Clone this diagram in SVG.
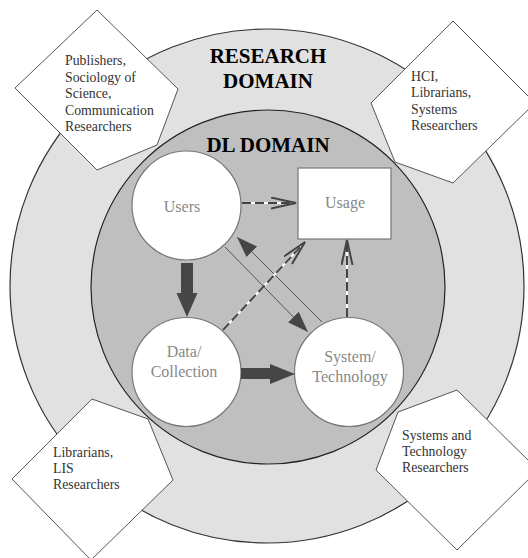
<svg xmlns="http://www.w3.org/2000/svg" width="528" height="558" viewBox="0 0 528 558">
  <style>
    .label { font-family: "Liberation Serif", "Times New Roman", serif; font-size: 16px; fill: #888; text-anchor: middle; }
    .title { font-family: "Liberation Serif", "Times New Roman", serif; font-size: 21px; font-weight: bold; fill: #000; text-anchor: middle; }
    .who { font-family: "Liberation Serif", "Times New Roman", serif; font-size: 13.8px; fill: #333; }
    .diamond { fill: #fff; stroke: #555; stroke-width: 1; }
    .node { fill: #fff; stroke: #777; stroke-width: 1.2; }
    .dash-base { stroke: #fff; stroke-width: 2; fill: none; }
    .dash { stroke: #444; stroke-width: 2; stroke-dasharray: 9 4; fill: none; }
    .thin { stroke: #555; stroke-width: 1; fill: none; }
    .bold-arrow { fill: #464646; }
  </style>
  <defs>
    <marker id="openHead" markerUnits="userSpaceOnUse" markerWidth="28" markerHeight="14" refX="25" refY="6" orient="auto">
      <path d="M0,0.5 L25,6 L0,11.5" fill="none" stroke="#444" stroke-width="2" stroke-dasharray="none"/>
    </marker>
    <marker id="solidHead" markerUnits="userSpaceOnUse" markerWidth="22" markerHeight="16" refX="21" refY="7.5" orient="auto">
      <path d="M0,0 L21,7.5 L0,15 z" fill="#464646" stroke="none"/>
    </marker>
  </defs>

  <!-- domains -->
  <g id="research-domain">
    <circle cx="267" cy="286" r="257" fill="#e1e1e1" stroke="#333" stroke-width="1.2"/>
    <text class="title" x="268" y="63">RESEARCH</text>
    <text class="title" x="268" y="88">DOMAIN</text>
  </g>
  <g id="dl-domain">
    <circle cx="268" cy="287" r="177" fill="#bfbfbf" stroke="#222" stroke-width="1.2"/>
    <text class="title" x="268" y="152">DL DOMAIN</text>
  </g>

  <!-- research communities -->
  <g id="publishers">
    <polygon class="diamond" points="97,10 178,89 157,145 97,170 15,88"/>
    <text class="who" x="65" y="65">Publishers,</text>
    <text class="who" x="65" y="81.5">Sociology of</text>
    <text class="who" x="65" y="98">Science,</text>
    <text class="who" x="65" y="114.5">Communication</text>
    <text class="who" x="65" y="131">Researchers</text>
  </g>
  <g id="hci">
    <polygon class="diamond" points="453,21 535,103 453,183 395,162 371,103"/>
    <text class="who" x="411" y="81">HCI,</text>
    <text class="who" x="411" y="97.3">Librarians,</text>
    <text class="who" x="411" y="113.7">Systems</text>
    <text class="who" x="411" y="130">Researchers</text>
  </g>
  <g id="lis">
    <polygon class="diamond" points="92,399 148,419 173,480 91,560 12,479"/>
    <text class="who" x="53" y="457">Librarians,</text>
    <text class="who" x="53" y="473">LIS</text>
    <text class="who" x="53" y="489">Researchers</text>
  </g>
  <g id="systems-tech">
    <polygon class="diamond" points="457,390 538,470 457,550 376,470 398,412"/>
    <text class="who" x="402" y="440">Systems and</text>
    <text class="who" x="402" y="456">Technology</text>
    <text class="who" x="402" y="472">Researchers</text>
  </g>

  <!-- DL nodes -->
  <g id="users">
    <circle class="node" cx="186.5" cy="205.5" r="54.5"/>
    <text class="label" x="182" y="212">Users</text>
  </g>
  <g id="usage">
    <rect class="node" x="298" y="168" width="93" height="71"/>
    <text class="label" x="345" y="208">Usage</text>
  </g>
  <g id="data-collection">
    <circle class="node" cx="186.5" cy="372" r="54.5"/>
    <text class="label" x="184" y="357">Data/</text>
    <text class="label" x="184" y="377">Collection</text>
  </g>
  <g id="system-technology">
    <circle class="node" cx="349" cy="372" r="54.5"/>
    <text class="label" x="350" y="362">System/</text>
    <text class="label" x="350" y="382">Technology</text>
  </g>

  <!-- connectors -->
  <g id="connectors">
    <!-- users -> system and back -->
    <line class="thin" x1="225" y1="247" x2="308" y2="332" marker-end="url(#solidHead)"/>
    <line class="thin" x1="322" y1="322" x2="237" y2="237" marker-end="url(#solidHead)"/>

    <!-- dashed usage links -->
    <line class="dash-base" x1="242" y1="203" x2="296" y2="203"/>
    <line class="dash" x1="242" y1="203" x2="296" y2="203" marker-end="url(#openHead)"/>
    <line class="dash-base" x1="223" y1="330" x2="305" y2="242"/>
    <line class="dash" x1="223" y1="330" x2="305" y2="242" marker-end="url(#openHead)"/>
    <line class="dash-base" x1="347" y1="317" x2="347" y2="240"/>
    <line class="dash" x1="347" y1="317" x2="347" y2="240" marker-end="url(#openHead)"/>

    <!-- bold flow arrows -->
    <polygon class="bold-arrow" points="181,263 193,263 193,293 197.5,293 187,317 176.5,293 181,293"/>
    <polygon class="bold-arrow" points="241,368 270,368 270,364 295,374 270,384 270,379 241,379"/>
  </g>
</svg>
